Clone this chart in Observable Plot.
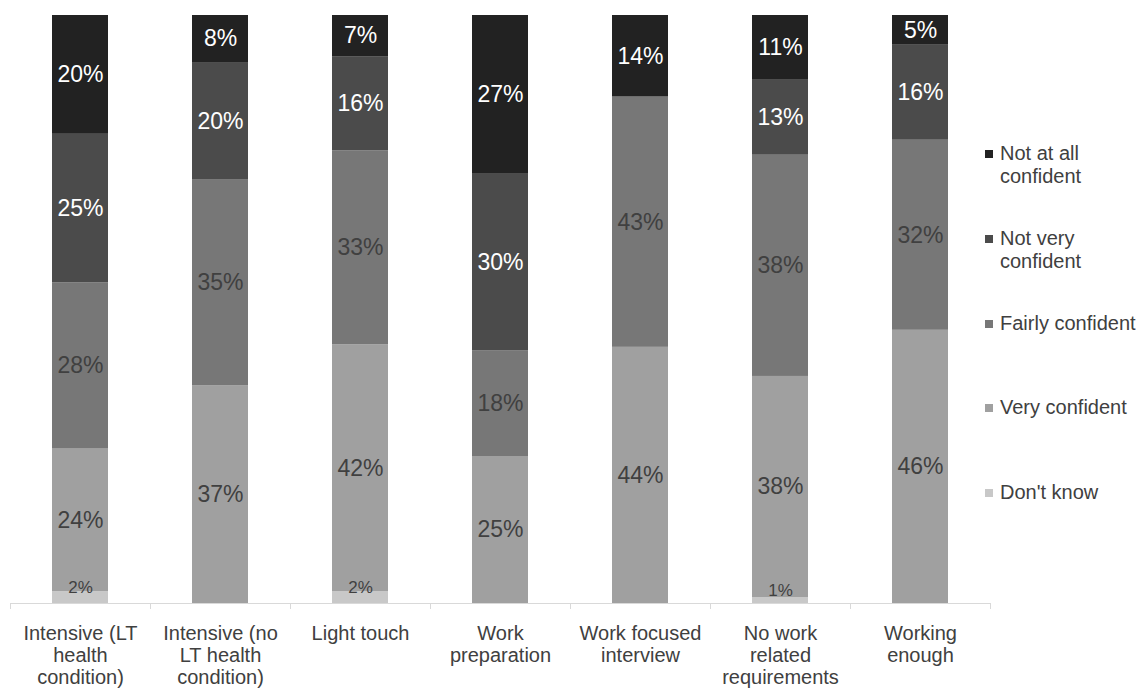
<!DOCTYPE html>
<html>
<head>
<meta charset="utf-8">
<script src="https://cdn.jsdelivr.net/npm/d3@7"></script>
<script src="https://cdn.jsdelivr.net/npm/@observablehq/plot@0.6"></script>
<style>
  html, body { margin: 0; padding: 0; background: #fff; }
  #wrap { position: relative; width: 1142px; height: 688px; font-family: "Liberation Sans", Arial, sans-serif; }
  #legend { position: absolute; left: 0; top: 0; }
  .item { position: absolute; left: 985px; font-size: 20px; line-height: 23px; color: #404040; }
  .sw { position: absolute; left: 0; top: 8px; width: 8px; height: 8px; }
  .lbl { position: absolute; left: 15px; top: 0; white-space: nowrap; }
</style>
</head>
<body>
<div id="wrap"><div id="chart"></div><div id="legend"></div></div>
<script>
// Categories (x axis)
const categories = [
  "Intensive (LT health condition)",
  "Intensive (no LT health condition)",
  "Light touch",
  "Work preparation",
  "Work focused interview",
  "No work related requirements",
  "Working enough"
];
const tickLabels = [
  "Intensive (LT\nhealth\ncondition)",
  "Intensive (no\nLT health\ncondition)",
  "Light touch",
  "Work\npreparation",
  "Work focused\ninterview",
  "No work\nrelated\nrequirements",
  "Working\nenough"
];
// Series (bottom to top)
const seriesNames = ["Don't know", "Very confident", "Fairly confident", "Not very confident", "Not at all confident"];
const dontKnow        = [2, 0, 2, 0, 0, 1, 0];
const veryConfident   = [24, 37, 42, 25, 44, 38, 46];
const fairlyConfident = [28, 35, 33, 18, 43, 38, 32];
const notVeryConf     = [25, 20, 16, 30, 0, 13, 16];
const notAtAllConf    = [20, 8, 7, 27, 14, 11, 5];
const seriesColors = ["#c8c8c8", "#a0a0a0", "#777777", "#4b4b4b", "#222222"];
const legendLabels = ["Not at all\nconfident", "Not very\nconfident", "Fairly confident", "Very confident", "Don't know"];

const seriesValues = [dontKnow, veryConfident, fairlyConfident, notVeryConf, notAtAllConf];
const data = [];
categories.forEach((c, i) => {
  seriesNames.forEach((s, j) => {
    data.push({category: c, series: s, value: seriesValues[j][i]});
  });
});
const labelOf = Object.fromEntries(categories.map((c, i) => [c, tickLabels[i]]));
const darkSeries = new Set(["Not very confident", "Not at all confident"]);
const midSeries = new Set(["Very confident", "Fairly confident"]);

const stackOpts = (extra) => Plot.stackY({
  x: "category", y: "value", z: "series", order: seriesNames, offset: "normalize", ...extra
});

const chart = Plot.plot({
  width: 1142,
  height: 688,
  marginLeft: 10,
  marginRight: 152,
  marginTop: 15,
  marginBottom: 85,
  style: {fontFamily: "'Liberation Sans', Arial, sans-serif", background: "#fff"},
  x: {domain: categories, paddingInner: 0.6, paddingOuter: 0.3, label: null},
  y: {domain: [0, 1], axis: null},
  color: {domain: seriesNames, range: seriesColors},
  marks: [
    Plot.barY(data, stackOpts({fill: "series"})),
    Plot.text(data, stackOpts({
      text: d => darkSeries.has(d.series) && d.value > 0 ? d.value + "%" : "",
      fill: "#ffffff", fontSize: 23
    })),
    Plot.text(data, stackOpts({
      text: d => midSeries.has(d.series) && d.value > 0 ? d.value + "%" : "",
      fill: "#404040", fontSize: 23
    })),
    Plot.text(data, stackOpts({
      text: d => d.series === "Don't know" && d.value > 0 ? d.value + "%" : "",
      fill: "#404040", fontSize: 17, dy: -10
    })),
    Plot.ruleY([0], {stroke: "#d9d9d9"}),
    Plot.ruleX(categories, {x: d => d, dx: -70, y1: 0, y2: 0, insetBottom: -6, stroke: "#d9d9d9"}),
    Plot.ruleX([categories[categories.length - 1]], {x: d => d, dx: 70, y1: 0, y2: 0, insetBottom: -6, stroke: "#d9d9d9"}),
    Plot.axisX({
      tickSize: 0, tickPadding: 21, fontSize: 20, lineHeight: 1.1,
      tickFormat: d => labelOf[d], fill: "#404040", label: null
    })
  ]
});
document.getElementById("chart").appendChild(chart);

// Legend
const legend = document.getElementById("legend");
const legendOrder = [4, 3, 2, 1, 0];
const legendTops = [142, 227, 312, 396, 481];
legendOrder.forEach((j, k) => {
  const item = document.createElement("div");
  item.className = "item";
  item.style.top = legendTops[k] + "px";
  const sw = document.createElement("div");
  sw.className = "sw";
  sw.style.background = seriesColors[j];
  const lbl = document.createElement("div");
  lbl.className = "lbl";
  lbl.innerHTML = legendLabels[k].replace("\n", "<br>");
  item.appendChild(sw);
  item.appendChild(lbl);
  legend.appendChild(item);
});
</script>
</body>
</html>
